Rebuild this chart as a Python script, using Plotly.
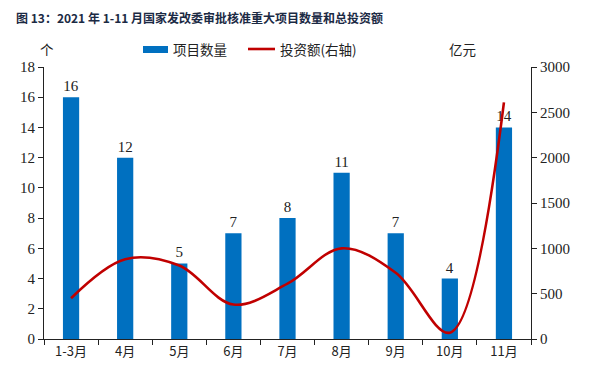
import plotly.graph_objects as go

categories = ["1-3月", "4月", "5月", "6月", "7月", "8月", "9月", "10月", "11月"]
project_counts = [16, 12, 5, 7, 8, 11, 7, 4, 14]
investment = [450, 880, 810, 380, 610, 1000, 730, 70, 2610]

bar_color = "#0070C0"
line_color = "#C00000"
serif = "Liberation Serif, Times New Roman, serif"
cjk = "Noto Sans CJK SC, sans-serif"

OFF = 8  # default page body margin
W, H = 600 - OFF, 374 - OFF
# plot area in screen pixels: x 44..531, y 67..339
ml, mt = 44 - OFF, 67 - OFF
mr = W - (531 - OFF)
mb = H - (339 - OFF)
pw = W - ml - mr
ph = H - mt - mb

def px(x):
    return (x - OFF - ml) / pw

def py(y):
    return (H - mb - (y - OFF)) / ph

fig = go.Figure()
fig.add_trace(go.Bar(
    x=categories, y=project_counts, name="项目数量",
    marker=dict(color=bar_color, line=dict(width=0)),
    width=0.3,
    text=[str(v) for v in project_counts], textposition="outside",
    textfont=dict(family=serif, size=15, color="#222222"),
    cliponaxis=False, showlegend=False,
))
fig.add_trace(go.Scatter(
    x=categories, y=investment, name="投资额(右轴)", yaxis="y2",
    mode="lines", line=dict(color=line_color, width=2.6, shape="spline", smoothing=1.0),
    showlegend=False,
))

def axis_style(tickfont):
    return dict(
        showline=True, linecolor="#222222", linewidth=1.2,
        ticks="outside", ticklen=5, tickcolor="#222222", tickwidth=1.2,
        showgrid=False, zeroline=False, tickfont=tickfont, automargin=False,
    )

serif_tick = dict(family=serif, size=15, color="#222222")
cjk_tick = dict(family=cjk, size=13, color="#222222")

fig.update_layout(
    width=W, height=H,
    margin=dict(l=ml, r=mr, t=mt, b=mb, autoexpand=False),
    paper_bgcolor="white", plot_bgcolor="white",
    xaxis=dict(**axis_style(cjk_tick), tickson="boundaries", type="category"),
    yaxis=dict(**axis_style(serif_tick), range=[0, 18], dtick=2),
    yaxis2=dict(**axis_style(serif_tick), range=[0, 3000], dtick=500, overlaying="y", side="right"),
    showlegend=False,
    shapes=[
        dict(type="rect", xref="paper", yref="paper",
             x0=px(143), x1=px(168), y0=py(46), y1=py(53),
             fillcolor=bar_color, line=dict(width=0)),
        dict(type="line", xref="paper", yref="paper",
             x0=px(248), x1=px(275), y0=py(49), y1=py(49),
             line=dict(color=line_color, width=2.6)),
    ],
    annotations=[
        dict(text="<b>图 13：2021 年 1-11 月国家发改委审批核准重大项目数量和总投资额</b>",
             xref="paper", yref="paper", x=px(14), y=py(17), xanchor="left", yanchor="middle",
             showarrow=False, font=dict(family=cjk, size=12, color="#1B2A44")),
        dict(text="项目数量", xref="paper", yref="paper", x=px(171), y=py(49),
             xanchor="left", yanchor="middle", showarrow=False,
             font=dict(family=cjk, size=13.5, color="#222222")),
        dict(text="投资额(右轴)", xref="paper", yref="paper", x=px(278), y=py(49),
             xanchor="left", yanchor="middle", showarrow=False,
             font=dict(family=cjk, size=13.5, color="#222222")),
        dict(text="个", xref="paper", yref="paper", x=px(47), y=py(49),
             xanchor="center", yanchor="middle", showarrow=False,
             font=dict(family=cjk, size=13.5, color="#222222")),
        dict(text="亿元", xref="paper", yref="paper", x=px(462), y=py(49),
             xanchor="center", yanchor="middle", showarrow=False,
             font=dict(family=cjk, size=13.5, color="#222222")),
    ],
)

fig.write_html("out.html")
